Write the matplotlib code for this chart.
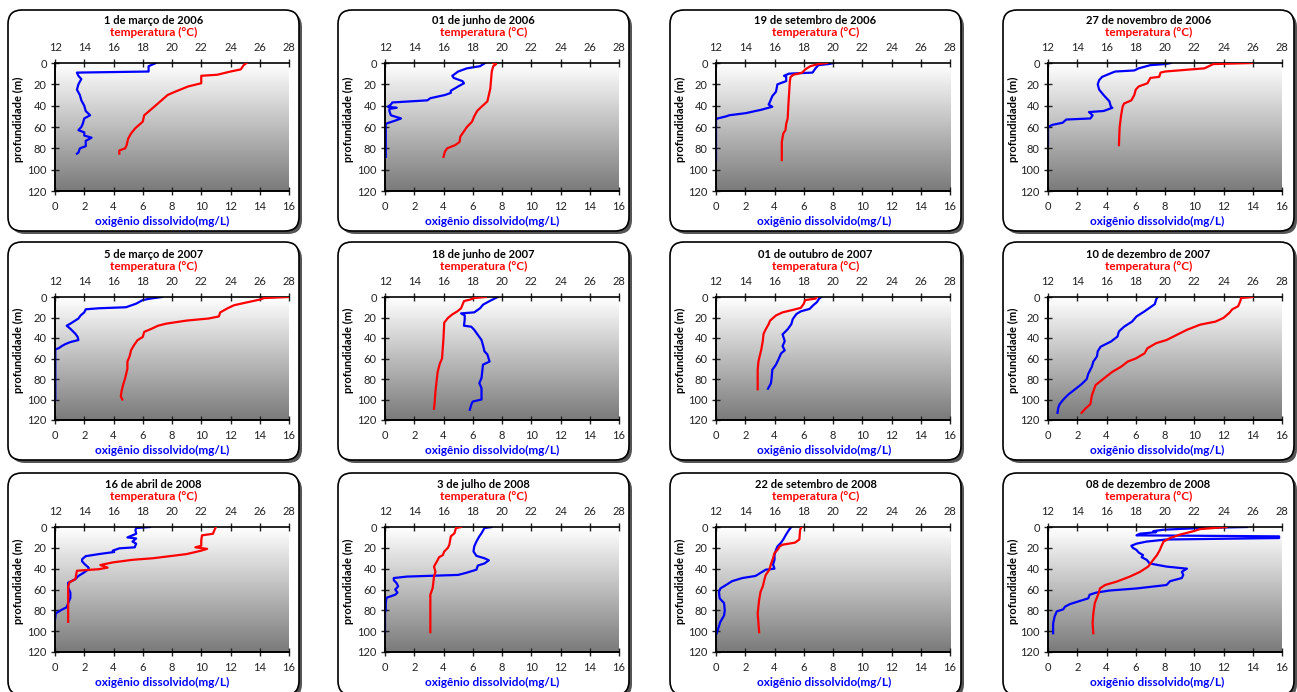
import matplotlib.pyplot as plt
import numpy as np
from matplotlib.patches import FancyBboxPatch
from matplotlib.colors import LinearSegmentedColormap

plt.rcParams['font.family'] = ['Lato', 'DejaVu Sans']

TITLES = [
    '1 de março de 2006', '01 de junho de 2006', '19 de setembro de 2006', '27 de novembro de 2006',
    '5 de março de 2007', '18 de junho de 2007', '01 de outubro de 2007', '10 de dezembro de 2007',
    '16 de abril de 2008', '3 de julho de 2008', '22 de setembro de 2008', '08 de dezembro de 2008',
]

# oxygen (mg/L) and temperature (C) profiles, depth in m
p1_oxy_depth = [0, 3, 8, 9, 12, 15, 20, 25, 30, 35, 40, 45, 49, 52, 57, 60, 63, 65, 68, 70, 73, 78, 80, 84, 85]
p1_oxy = [6.9, 6.4, 6.4, 1.5, 1.6, 1.8, 1.6, 1.5, 1.7, 1.8, 2.0, 2.1, 2.4, 2.0, 1.9, 1.8, 1.6, 2.0, 2.0, 2.5, 2.1, 2.1, 1.7, 1.6, 1.5]
p1_temp_depth = [0, 2, 6, 8, 11, 12, 19, 22, 27, 30, 36, 42, 49, 55, 61, 66, 71, 77, 80, 82, 85]
p1_temp = [25.1, 24.9, 24.7, 24.0, 23.1, 22.0, 22.0, 21.1, 20.2, 19.7, 19.2, 18.7, 18.1, 18.0, 17.5, 17.2, 17.0, 16.9, 16.8, 16.4, 16.4]

p2_oxy_depth = [0, 3, 5, 8, 12, 14, 17, 19, 22, 26, 28, 30, 33, 35, 37, 39, 41, 42, 43, 45, 49, 52, 54, 57, 88]
p2_oxy = [6.85, 6.5, 5.6, 5.0, 4.6, 4.7, 5.3, 5.4, 5.0, 4.5, 4.5, 4.1, 3.1, 2.9, 0.5, 0.4, 0.2, 0.8, 0.3, 0.3, 0.4, 1.1, 0.7, 0.05, 0.05]
p2_temp_depth = [0, 1, 3, 8, 24, 30, 36, 41, 45, 50, 55, 60, 64, 69, 74, 77, 80, 83, 88]
p2_temp = [19.4, 19.6, 19.4, 19.3, 19.2, 19.1, 19.0, 18.6, 18.3, 18.1, 17.95, 17.6, 17.4, 17.15, 17.1, 16.8, 16.25, 16.1, 16.0]

p3_oxy_depth = [0, 1, 2, 5, 9, 10, 12, 13, 17, 19, 20, 27, 31, 36, 39, 41, 44, 45, 47, 49, 50, 52, 53, 91]
p3_oxy = [8.05, 7.7, 7.0, 6.8, 6.6, 5.0, 4.65, 4.8, 4.8, 4.4, 4.2, 4.1, 3.85, 3.7, 3.6, 3.85, 3.05, 2.7, 2.05, 0.9, 0.7, 0.1, 0.0, 0.0]
p3_temp_depth = [0, 1, 3, 6, 9, 11, 13, 17, 39, 52, 57, 63, 66, 74, 91]
p3_temp = [19.6, 19.0, 18.45, 18.1, 17.9, 17.3, 17.1, 17.05, 16.95, 16.9, 16.8, 16.75, 16.6, 16.5, 16.5]

p4_oxy_depth = [0, 1, 2, 5, 7, 8, 9, 13, 16, 20, 25, 30, 36, 41, 42, 45, 46, 49, 52, 53, 56, 58, 60, 77]
p4_oxy = [8.4, 8.0, 7.0, 6.2, 5.9, 4.6, 4.4, 3.7, 3.5, 3.4, 3.5, 3.8, 4.2, 4.3, 4.4, 3.8, 2.8, 3.05, 2.9, 1.25, 1.0, 0.3, 0.0, 0.0]
p4_temp_depth = [0, 1, 3, 5, 6, 8, 9, 13, 14, 19, 22, 25, 30, 35, 38, 41, 49, 60, 77]
p4_temp = [25.95, 23.3, 23.0, 22.7, 21.8, 20.0, 19.7, 19.6, 19.0, 18.8, 18.2, 18.0, 17.9, 17.7, 17.2, 17.1, 17.0, 16.9, 16.85]

p5_oxy_depth = [0, 1.6, 3, 6.5, 10, 11, 12, 15, 18, 21, 26, 28, 31, 36, 39, 42, 44, 46, 48, 50, 51, 100]
p5_oxy = [7.3, 6.5, 6.0, 5.55, 4.85, 3.0, 2.1, 2.0, 1.75, 1.6, 1.05, 0.8, 1.05, 1.4, 1.55, 1.6, 1.05, 0.7, 0.45, 0.25, 0.02, 0.02]
p5_temp_depth = [0, 1, 2.5, 5, 8, 11, 15, 19, 21, 23, 26, 28, 31, 34, 39, 42, 47, 52, 58, 63, 70, 79, 86, 92, 97, 100]
p5_temp = [28.0, 26.3, 26.0, 25.2, 24.25, 23.8, 23.3, 23.2, 22.5, 21.0, 19.6, 19.05, 18.6, 18.1, 18.0, 17.65, 17.4, 17.2, 17.1, 16.95, 16.95, 16.8, 16.65, 16.55, 16.5, 16.6]

p6_oxy_depth = [0, 4, 7.5, 11, 15, 16, 18, 22, 28, 29, 32, 37, 42, 47, 53, 56, 63, 66, 79, 84, 89, 100, 102, 105, 110]
p6_oxy = [7.7, 7.15, 6.7, 6.5, 6.1, 5.2, 5.45, 5.45, 5.4, 5.9, 6.1, 6.35, 6.6, 6.7, 6.8, 7.0, 7.15, 6.7, 6.6, 6.45, 6.6, 6.6, 6.0, 5.9, 5.8]
p6_temp_depth = [0, 1, 2.6, 4, 7.5, 11, 14, 17, 20.5, 25, 40, 60, 65, 73, 92, 102, 109]
p6_temp = [18.9, 18.1, 17.8, 17.4, 17.3, 17.2, 16.95, 16.6, 16.3, 16.05, 16.0, 15.9, 15.75, 15.6, 15.45, 15.4, 15.35]

p7_oxy_depth = [0, 1.6, 5, 8, 11.6, 14, 16.6, 21.5, 26.5, 31.5, 36.5, 43, 48, 52, 55, 60, 66, 71, 79.5, 84.5, 89.5]
p7_oxy = [7.2, 7.05, 6.9, 6.65, 6.4, 5.8, 5.5, 5.25, 5.15, 4.9, 4.55, 4.7, 4.55, 4.7, 4.45, 4.3, 4.1, 3.85, 3.8, 3.75, 3.55]
p7_temp_depth = [0, 1.6, 3, 6.6, 10.6, 12.6, 15, 18, 23, 26.5, 31.5, 36, 43, 51, 63, 71, 90]
p7_temp = [18.9, 18.8, 18.1, 18.0, 17.8, 17.25, 16.55, 16.1, 15.7, 15.6, 15.4, 15.25, 15.2, 15.1, 14.9, 14.85, 14.85]

p8_oxy_depth = [0, 2.3, 7, 10.5, 14, 19, 24, 29, 33.6, 38.6, 43.5, 48.5, 53, 58, 63, 68, 75, 80, 85, 90, 95, 100, 104.5, 108, 113]
p8_oxy = [7.5, 7.4, 7.3, 6.95, 6.6, 6.05, 5.75, 5.2, 4.85, 4.75, 4.3, 3.6, 3.4, 3.35, 3.1, 3.0, 2.75, 2.65, 2.3, 1.85, 1.4, 1.05, 0.8, 0.7, 0.65]
p8_temp_depth = [0, 1, 4, 9, 12, 15.5, 20.4, 24, 27, 32, 37, 42, 45, 50, 55, 60, 63, 68, 73, 78, 86, 96, 104.5, 109, 113]
p8_temp = [26.0, 25.2, 25.15, 25.0, 24.6, 24.4, 24.0, 23.45, 22.4, 21.5, 20.8, 20.1, 19.4, 18.8, 18.6, 18.0, 17.45, 17.0, 16.4, 15.95, 15.25, 15.0, 14.9, 14.55, 14.3]

p9_oxy_depth = [0, 1, 3, 6.5, 10, 11, 14, 16, 19.5, 20.5, 22.7, 24, 26, 28, 31, 33, 36, 39, 40.5, 44, 47, 50, 53.5, 58, 63, 68, 73, 77, 79.5, 83, 89]
p9_oxy = [6.5, 5.55, 5.5, 5.55, 4.95, 5.55, 5.3, 5.55, 5.45, 4.4, 3.95, 4.05, 3.0, 2.1, 1.85, 1.85, 2.05, 2.3, 2.3, 1.95, 1.6, 1.4, 0.9, 0.9, 1.05, 1.05, 0.9, 0.8, 0.45, 0.05, 0.0]
p9_temp_depth = [0, 3, 6.5, 8, 13, 18, 19.5, 21, 22.7, 26, 28, 30, 31.5, 34, 36.5, 39, 40.5, 42, 45.4, 50, 53, 57, 91]
p9_temp = [23.0, 22.9, 22.8, 22.05, 22.0, 22.0, 21.6, 22.4, 22.0, 21.0, 19.85, 18.7, 17.3, 15.95, 15.1, 15.6, 15.0, 13.5, 13.45, 13.4, 13.0, 12.9, 12.9]

p10_oxy_depth = [0, 1, 6, 9, 14, 18.7, 23.5, 27.7, 30, 32, 35, 37, 41, 44, 46, 47.6, 49, 51, 54, 57, 60, 63, 65, 68, 73, 80, 82, 101]
p10_oxy = [7.3, 6.8, 6.6, 6.45, 6.25, 6.1, 6.05, 6.25, 6.8, 7.1, 6.8, 6.35, 6.25, 5.55, 5.0, 1.5, 0.6, 0.6, 0.8, 0.9, 0.7, 0.85, 0.7, 0.1, 0.05, 0.05, 0.0, 0.0]
p10_temp_depth = [0, 1, 6, 9, 17, 20, 23.5, 27, 29, 33, 38, 43, 47.6, 54, 59, 65, 101]
p10_temp = [17.2, 16.85, 16.75, 16.5, 16.4, 16.3, 16.05, 15.95, 15.7, 15.55, 15.35, 15.45, 15.35, 15.3, 15.25, 15.1, 15.1]

p11_oxy_depth = [0, 2.6, 7, 12, 15, 18.7, 22, 27, 31.5, 36, 40, 41, 44, 47, 49, 52, 56, 59, 62, 68.5, 73, 80, 85, 91, 97.5, 102]
p11_oxy = [5.15, 5.0, 4.8, 4.6, 4.45, 4.2, 4.1, 4.0, 4.0, 3.9, 4.0, 3.4, 3.05, 2.7, 1.8, 1.1, 0.65, 0.3, 0.2, 0.25, 0.55, 0.6, 0.55, 0.3, 0.15, 0.05]
p11_temp_depth = [0, 2.6, 12, 15, 17, 18.7, 22, 25, 30, 36, 41, 46, 51, 57, 62, 70, 83, 101]
p11_temp = [17.85, 17.75, 17.7, 17.4, 16.55, 16.35, 16.2, 16.0, 15.9, 15.75, 15.65, 15.4, 15.3, 15.2, 15.05, 14.95, 14.85, 14.95]

p12_oxy_depth = [0, 1, 2.6, 4, 5, 6.4, 8, 9, 10.6, 12, 14, 16, 18, 20, 22, 24.5, 27, 29, 31.5, 35, 38, 40, 43, 46, 49, 52, 55.7, 59, 61, 63, 65, 68.5, 72, 74, 76.6, 79, 81, 86, 92.7, 102]
p12_oxy = [13.6, 10.4, 7.9, 7.2, 7.4, 6.3, 6.05, 15.8, 15.8, 8.1, 6.75, 6.05, 5.7, 5.8, 6.05, 6.2, 6.5, 6.4, 6.75, 6.95, 8.1, 9.5, 9.15, 9.25, 9.15, 8.35, 8.1, 6.05, 4.2, 3.3, 2.85, 2.75, 1.95, 1.5, 1.15, 1.05, 0.6, 0.45, 0.35, 0.35]
p12_temp_depth = [0, 2, 4, 7.4, 10.6, 14, 17, 22, 27, 31.5, 38, 43, 47.6, 52.4, 55.7, 59, 64, 73, 83, 92.7, 102]
p12_temp = [24.2, 22.4, 21.95, 21.0, 20.35, 19.9, 19.8, 19.65, 19.45, 19.2, 18.85, 18.3, 17.6, 16.7, 15.9, 15.55, 15.45, 15.2, 15.1, 15.05, 15.1]

PANELS = [
    (p1_oxy_depth, p1_oxy, p1_temp_depth, p1_temp),
    (p2_oxy_depth, p2_oxy, p2_temp_depth, p2_temp),
    (p3_oxy_depth, p3_oxy, p3_temp_depth, p3_temp),
    (p4_oxy_depth, p4_oxy, p4_temp_depth, p4_temp),
    (p5_oxy_depth, p5_oxy, p5_temp_depth, p5_temp),
    (p6_oxy_depth, p6_oxy, p6_temp_depth, p6_temp),
    (p7_oxy_depth, p7_oxy, p7_temp_depth, p7_temp),
    (p8_oxy_depth, p8_oxy, p8_temp_depth, p8_temp),
    (p9_oxy_depth, p9_oxy, p9_temp_depth, p9_temp),
    (p10_oxy_depth, p10_oxy, p10_temp_depth, p10_temp),
    (p11_oxy_depth, p11_oxy, p11_temp_depth, p11_temp),
    (p12_oxy_depth, p12_oxy, p12_temp_depth, p12_temp),
]

# layout in pixels
W, H = 1297, 692
COL_LEFT = [55, 385, 716, 1048]
AX_W = 234
ROW_TOP = [63, 297, 527]
ROW_BOT = [191, 420, 652]
BOX_X = [8, 338, 670, 1003]
BOX_W = 291
BOX_Y = [10, 242, 473]
BOX_H = [221, 218, 222]

fig = plt.figure(figsize=(W / 100, H / 100), dpi=100)
bg = fig.add_axes([0, 0, 1, 1], zorder=0)
bg.set_xlim(0, W)
bg.set_ylim(H, 0)
bg.axis('off')

grad_cmap = LinearSegmentedColormap.from_list('g', ['#ffffff', '#7a7a7a'])
grad = np.linspace(0, 1, 256).reshape(-1, 1)

for i, (od, ov, td, tv) in enumerate(PANELS):
    r, c = divmod(i, 4)
    # rounded frame with shadow
    bg.add_patch(FancyBboxPatch((BOX_X[c] + 3, BOX_Y[r] + 3), BOX_W, BOX_H[r],
                                boxstyle='round,pad=0,rounding_size=14',
                                fc='#555555', ec='none'))
    bg.add_patch(FancyBboxPatch((BOX_X[c], BOX_Y[r]), BOX_W, BOX_H[r],
                                boxstyle='round,pad=0,rounding_size=14',
                                fc='white', ec='black', lw=1.2))

    x0, y0, y1 = COL_LEFT[c], ROW_TOP[r], ROW_BOT[r]
    ax = fig.add_axes([x0 / W, 1 - y1 / H, AX_W / W, (y1 - y0) / H], zorder=1)
    ax.imshow(grad, cmap=grad_cmap, extent=[0, 16, 120, 0], aspect='auto', zorder=0)
    ax.plot(ov, od, color='#0000ff', lw=1.6, zorder=3)
    ax.set_xlim(0, 16)
    ax.set_ylim(120, 0)
    ax.set_xticks(range(0, 17, 2))
    ax.set_yticks(range(0, 121, 20))
    ax.spines['right'].set_visible(False)
    ax.spines['top'].set_visible(False)
    ax.tick_params(axis='x', direction='inout', length=6, width=1, labelsize=8, pad=4, colors='#222222')
    ax.tick_params(axis='y', direction='inout', length=6, width=1, labelsize=8, pad=3, colors='#222222')

    ax2 = ax.twiny()
    ax2.plot(tv, td, color='#ff0000', lw=1.6, zorder=3)
    ax2.set_xlim(12, 28)
    ax2.set_xticks(range(12, 29, 2))
    ax2.spines['right'].set_visible(False)
    ax2.tick_params(axis='x', direction='inout', length=6, width=1, labelsize=8, pad=4, colors='#222222')
    for sp in ('left', 'bottom', 'top'):
        ax.spines[sp].set_linewidth(1.2)
        ax2.spines[sp].set_linewidth(1.2)

    cx = BOX_X[c] + BOX_W / 2
    bg.text(cx, y0 - 43, TITLES[i], ha='center', va='center', fontsize=8, fontweight='bold', color='black')
    bg.text(cx, y0 - 31, 'temperatura (°C)', ha='center', va='center', fontsize=8.5, fontweight='bold', color='#ff0000')
    bg.text(cx + 9, y1 + 30, 'oxigênio dissolvido(mg/L)', ha='center', va='center', fontsize=8.5,
            fontweight='bold', color='#0000ff')
    bg.text(BOX_X[c] + 10, (y0 + y1) / 2 - 8, 'profundidade (m)', ha='center', va='center', rotation=90,
            fontsize=8, fontweight='bold', color='black')

fig.savefig('out.png', dpi=100)
